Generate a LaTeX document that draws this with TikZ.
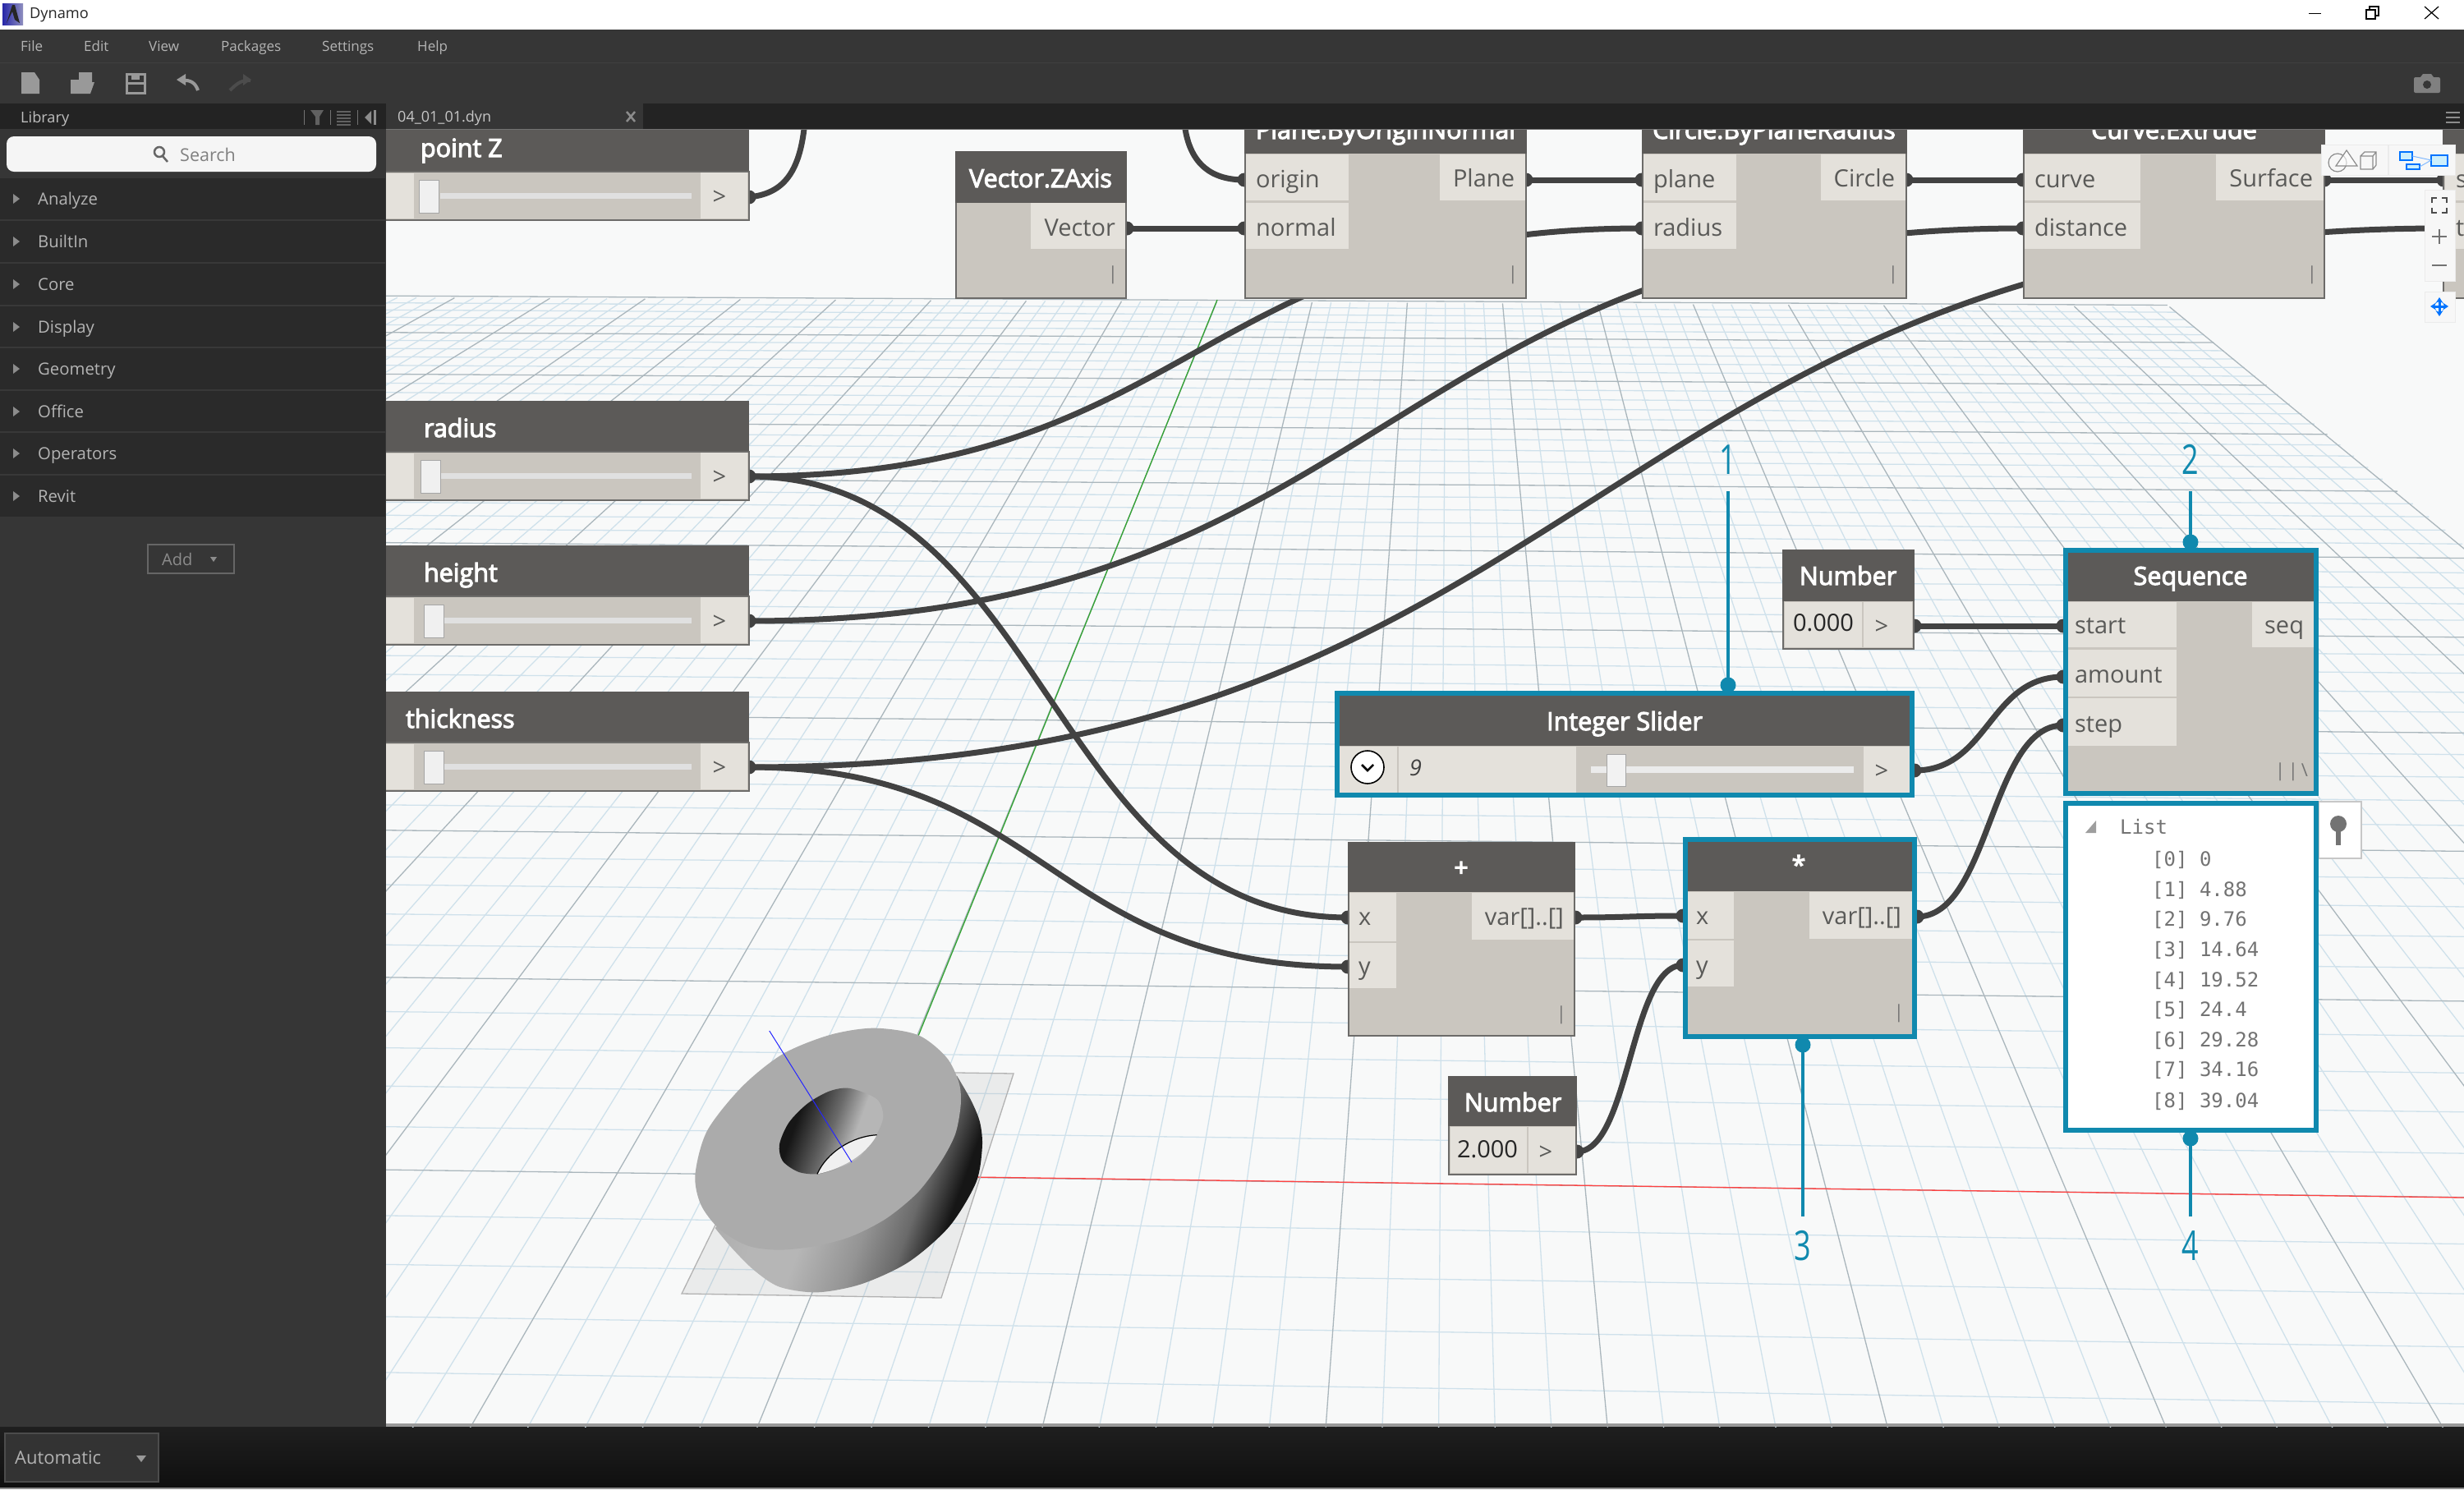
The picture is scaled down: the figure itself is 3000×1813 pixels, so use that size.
\documentclass[tikz,border=0pt]{standalone}
\usepackage{fontspec}
\setmainfont{Open Sans}
\newfontfamily\titlefont[FakeBold=3.5]{Open Sans}
\newfontfamily\monofont{DejaVu Sans Mono}
\usetikzlibrary{calc,arrows.meta}
\definecolor{hdr}{HTML}{5C5A58}
\definecolor{bodyc}{HTML}{CAC6BF}
\definecolor{cellc}{HTML}{E4E1DB}
\definecolor{bord}{HTML}{6C6B69}
\definecolor{canvasc}{HTML}{F8F9F9}
\definecolor{blu}{HTML}{1089AE}
\definecolor{wirec}{HTML}{424242}
\definecolor{panel}{HTML}{363636}
\definecolor{panel2}{HTML}{2A2A2A}
\definecolor{tabbar}{HTML}{232323}
\definecolor{menut}{HTML}{B4B4B4}
\definecolor{portt}{HTML}{5A5A58}
\definecolor{gmin}{HTML}{CFE1EB}
\definecolor{gmaj}{HTML}{AAB6BC}
\definecolor{ss1}{HTML}{AAAAAA}\definecolor{ss2}{HTML}{B6B6B6}\definecolor{ss3}{HTML}{949494}\definecolor{ss4}{HTML}{6A6A6A}\definecolor{ss5}{HTML}{161616}
\pgfdeclarehorizontalshading{sideshade}{100bp}{color(0bp)=(ss1);color(25bp)=(ss1);color(36bp)=(ss2);color(45bp)=(ss2);color(56bp)=(ss3);color(64bp)=(ss4);color(71bp)=(ss5);color(100bp)=(ss5)}
\pgfdeclarehorizontalshading{holeshade}{100bp}{color(0bp)=(ss5);color(32bp)=(ss5);color(50bp)=(ss4);color(62bp)=(ss2);color(72bp)=(ss2);color(75bp)=(ss1);color(100bp)=(ss1)}
\tikzset{
 lab/.style={font=\fontsize{29}{29}\selectfont,text=portt,inner sep=0pt,outer sep=0pt,text height=27pt,text depth=6pt},
 ttl/.style={font=\titlefont\fontsize{30.5}{30.5}\selectfont,text=white,inner sep=0pt,outer sep=0pt,text height=28pt,text depth=6pt},
 menutxt/.style={font=\fontsize{17}{17}\selectfont,text=menut,inner sep=0pt,anchor=west,text height=16pt,text depth=4pt},
 libtxt/.style={font=\fontsize{20.3}{20.3}\selectfont,text=menut,inner sep=0pt,anchor=west,text height=18pt,text depth=4pt},
 listtxt/.style={font=\monofont\fontsize{24}{24}\selectfont,text=black!55,inner sep=0pt,anchor=west,text height=22pt,text depth=5pt},
 callt/.style={font=\fontsize{50}{50}\selectfont,text=blu,inner sep=0pt,text height=38pt,text depth=0pt},
 hdrb/.style={fill=hdr},
 bodyb/.style={fill=bodyc,draw=bord,line width=2pt},
 cellb/.style={fill=cellc},
 hibox/.style={draw=blu,line width=6.5pt},
 wire/.style={draw=wirec,line width=7pt},
 portd/.style={fill=wirec},
 callline/.style={draw=blu,line width=4.5pt},
 calldot/.style={fill=blu},
 gridmin/.style={draw=gmin,line width=1.3pt},
 gridmaj/.style={draw=gmaj,line width=1.3pt},
 ctlb/.style={fill=white!97!black,draw=black!8,line width=1pt},
}
% rectangle node from corners
\newcommand\bx[6]{\pgfmathsetmacro\bxw{#5-(#3)}\pgfmathsetmacro\bxh{#6-(#4)}%
 \node[#2,anchor=north west,inner sep=0pt,outer sep=0pt,minimum width=\bxw pt,minimum height=\bxh pt] (#1) at (#3,#4) {};}
% wire with Dynamo-like control points
\newcommand\wireto[2]{\coordinate (wm) at ($(#1)!.5!(#2)$);\draw[wire] (#1) .. controls (wm |- #1) and (wm |- #2) .. (#2);}
\newcommand\portdot[1]{\fill[portd] (#1) circle (8.5pt);}
% number slider: name, title, ytop, title x, thumb x
\newcommand\numslider[5]{%
 \bx{#1-h}{hdrb}{460}{#3}{912}{#3+62}
 \bx{#1-b}{bodyb}{460}{#3+62}{912}{#3+121}
 \bx{#1-l}{cellb}{460}{#3+64}{504}{#3+119}
 \bx{#1-r}{cellb}{853}{#3+63}{910}{#3+119}
 \bx{#1-tr}{fill=black!12}{536}{#3+88}{842}{#3+95}
 \bx{#1-th}{fill=black!6,draw=black!35,line width=1pt}{#5}{#3+72}{#5+24}{#3+112}
 \node[ttl,anchor=west] (#1-t) at (#4,#3+33) {#2};
 \node[lab,text=portt] (#1-g) at (876,#3+92) {>};
}
% standard function node pieces
\newcommand\tick[2]{\node[font=\fontsize{22}{22}\selectfont,text=black!55,inner sep=0pt] at (#1,#2) {|};}
\begin{document}
\begin{tikzpicture}[x=1pt,y=-1pt]
\useasboundingbox (0,0) rectangle (3000,1813);
% window chrome
\fill[white] (0,0) rectangle (3000,36);
\fill[panel] (0,36) rectangle (3000,126);
\draw[black!75,line width=1pt] (0,76) -- (3000,76);
\fill[tabbar] (0,126) rectangle (3000,157);
\fill[panel] (470,126) rectangle (783,157);
\fill[panel] (0,157) rectangle (470,1737);
\fill[panel2] (0,217) rectangle (469,629);
\foreach \yy in {268,320,372,423,475,526,578} \draw[black!78,line width=2pt] (0,\yy) -- (469,\yy);
\shade[top color=black!88,bottom color=black!94] (0,1737) rectangle (3000,1811);
\fill[black!45] (0,1811) rectangle (3000,1813);
% title bar
\shade[left color=blue!60!black!85,right color=blue!25!white!75!black] (3,4) rectangle (28,30);
\fill[black!85] (8,28) -- (15,6) -- (18,6) -- (24,28) -- (18,24) -- (15,14) -- cycle;
\node[inner sep=0pt,anchor=west,font=\fontsize{18.2}{18.2}\selectfont,text=black!85] (apptitle) at (36,18) {Dynamo};
\draw[black,line width=1.2pt] (2811,16.5) -- (2826,16.5);
\draw[black,line width=1.2pt] (2881,12) rectangle (2892,23) (2885,12) -- (2885,8) -- (2896,8) -- (2896,19) -- (2892,19);
\draw[black,line width=1.2pt] (2952,8) -- (2969,23) (2969,8) -- (2952,23);
% menu
\node[menutxt] (m1) at (25,56) {File};
\node[menutxt] (m2) at (102,56) {Edit};
\node[menutxt] (m3) at (181,56) {View};
\node[menutxt] (m4) at (269,56) {Packages};
\node[menutxt] (m5) at (392,56) {Settings};
\node[menutxt] (m6) at (508,56) {Help};
% toolbar icons
\fill[black!40] (26,88) -- (42,88) -- (48,97) -- (48,114) -- (26,114) -- cycle;
\fill[black!40] (96,88) -- (112,88) -- (112,100) -- (115,100) -- (110,114) -- (86,114) -- (86,97) -- (96,97) -- cycle;
\draw[black!40,line width=3pt] (154,90) rectangle (176,113) (154,101) -- (176,101);
\fill[black!40] (160,90) rectangle (170,97);
\draw[black!40,line width=4pt] (222,98) .. controls (232,97) and (238,101) .. (241,110);
\fill[black!40] (215,97) -- (226,90) -- (226,104) -- cycle;
\draw[black!70,line width=4pt] (305,98) .. controls (295,97) and (289,101) .. (280,110);
\fill[black!70] (306,97) -- (296,90) -- (296,104) -- cycle;
% camera
\fill[black!50,rounded corners=2pt] (2939,94) rectangle (2971,113);
\fill[black!50] (2947,94) -- (2950,90) -- (2960,90) -- (2963,94) -- cycle;
\fill[panel] (2955,103) circle (5pt);
% tabs
\node[inner sep=0pt,anchor=west,font=\fontsize{18.2}{18.2}\selectfont,text=black!25,text height=16pt,text depth=4pt] (libtitle) at (25,143) {Library};
\foreach \xx in {370,402,435} \draw[black!55,line width=1pt] (\xx,134) -- (\xx,152);
\fill[black!62] (378,134) -- (394,134) -- (389,142) -- (389,152) -- (384,152) -- (384,142) -- cycle;
\foreach \yy in {136,140,144,148,152} \draw[black!62,line width=2pt] (410,\yy) -- (427,\yy);
\fill[black!45] (444,143) -- (452,135) -- (452,151) -- cycle;
\fill[black!45] (455,134) rectangle (458,152);
\node[inner sep=0pt,anchor=west,font=\fontsize{18}{18}\selectfont,text=black!22,text height=16pt,text depth=4pt] (tabname) at (484,142) {04\_01\_01.dyn};
\draw[black!45,line width=2.5pt] (763,136) -- (773,148) (773,136) -- (763,148);
\foreach \yy in {137,143,149} \draw[black!45,line width=2.5pt] (2978,\yy) -- (2995,\yy);
% library
\bx{searchbox}{fill=black!4,rounded corners=9pt}{8}{166}{458}{209}
\draw[black!60,line width=2.5pt] (194,185) circle (6pt) (198,190) -- (204,197);
\node[libtxt,font=\fontsize{21.5}{21.5}\selectfont,text=black!50] (searcht) at (219,189) {Search};
\foreach \nm/\yy in {Analyze/242,BuiltIn/294,Core/346,Display/398,Geometry/449,Office/501,Operators/552,Revit/604}{
 \node[libtxt] at (46,\yy) {\nm};
 \fill[black!45] (16,\yy-6) -- (24,\yy) -- (16,\yy+6) -- cycle;
}
\bx{addbox}{draw=black!60,line width=1.5pt}{180}{663}{285}{698}
\node[libtxt,font=\fontsize{20}{20}\selectfont,text=black!45] (addt) at (197,681) {Add};
\fill[black!45] (256,678) -- (264,678) -- (260,684) -- cycle;
\bx{autobox}{draw=black!70,fill=black!80,line width=1.5pt}{6}{1745}{193}{1804}
\node[libtxt,font=\fontsize{22}{22}\selectfont,text=black!30] (autot) at (18,1775) {Automatic};
\fill[black!40] (166,1772) -- (178,1772) -- (172,1780) -- cycle;
% canvas
\begin{scope}
\clip (470,157) rectangle (3000,1737);
\fill[canvasc] (470,157) rectangle (3000,1737);
% grid: minor then major
\foreach \pass in {0,1}{
 \foreach \m in {0,...,62}{
  \pgfmathtruncatemacro\ismaj{mod(\m,5)==0 ? 1 : 0}
  \ifnum\ismaj=\pass
  \pgfmathsetmacro\dd{10000/(14.41-0.1748*\m)}
  \pgfmathsetmacro\xl{1764-2.0727*\dd}
  \pgfmathsetmacro\xr{1764+1.2607*\dd}
  \pgfmathsetmacro\yl{-330+\dd+\dd*0.0075*((\xl-1196)/1000)}
  \pgfmathsetmacro\yr{-330+\dd+\dd*0.0075*((\xr-1196)/1000)}
  \ifnum\pass=1 \draw[gridmaj] (\xl,\yl) -- (\xr,\yr); \else \draw[gridmin] (\xl,\yl) -- (\xr,\yr); \fi
  \fi
 }
 \foreach \n in {-50,...,50}{
  \pgfmathtruncatemacro\ismaj{mod(abs(\n),5)==0 ? 1 : 0}
  \ifnum\ismaj=\pass
  \pgfmathsetmacro\sl{-0.406+\n/30}
  \pgfmathsetmacro\xa{1764+696*\sl}
  \pgfmathsetmacro\xb{1764+2560*\sl}
  \pgfmathsetmacro\ya{366+696*0.0075*((\xa-1196)/1000)}
  \pgfmathsetmacro\yb{2230+2560*0.0075*((\xb-1196)/1000)}
  \ifnum\pass=1 \draw[gridmaj] (\xa,\ya) -- (\xb,\yb); \else \draw[gridmin] (\xa,\ya) -- (\xb,\yb); \fi
  \fi
 }
}
% axes
\draw[green!55!black!80,line width=1.3pt] (1482,365) -- (1049,1431);
\draw[red!75,line width=1.3pt] (1040,1431) -- (3000,1458);
% base plane
\path[fill=black!40,fill opacity=.14,draw=black!30,line width=1.3pt] (963,1303) -- (1234,1307) -- (1146,1580) -- (830,1575) -- cycle;
% solid
\begin{scope}[shift={(750,1150)},x=0.38270pt,y=-0.33333pt]
 \path[shading=sideshade,shading angle=-20] plot[smooth] coordinates {(1085,480) (1130,570) (1158,650) (1165,740) (1145,870) (1060,1030) (930,1160) (780,1240) (640,1270) (520,1250) (440,1190) (370,1110) (315,1035)} -- (600,700) -- cycle;
 \fill[black!33] plot[smooth cycle] coordinates {(820,305) (960,330) (1050,410) (1090,500) (1097,580) (1080,690) (1035,790) (960,905) (860,1000) (750,1065) (640,1100) (520,1115) (420,1100) (330,1040) (270,950) (252,840) (290,680) (400,520) (530,400) (680,330)};
 \path[shading=holeshade,shading angle=-20] plot[smooth cycle] coordinates {(745,525) (830,565) (850,630) (825,700) (770,780) (700,820) (640,838) (580,830) (530,790) (520,730) (550,650) (610,580) (680,535)};
 \path[fill=black!6] (830,695) .. controls (750,700) and (670,760) .. (640,838) .. controls (700,825) and (790,780) .. cycle;
 \draw[black,line width=1.2pt] (830,695) .. controls (750,700) and (670,760) .. (640,838);
 \draw[blue!85,line width=1pt] (488,315) -- (750,795);
\end{scope}
% ports
\coordinate (pz-o) at (912,240);
\coordinate (ra-o) at (912,580);
\coordinate (he-o) at (912,756);
\coordinate (th-o) at (912,934);
\coordinate (vz-o) at (1372,278);
\coordinate (pl-i1) at (1515,219);
\coordinate (pl-i2) at (1515,278);
\coordinate (pl-o) at (1858,219);
\coordinate (ci-i1) at (1999,219);
\coordinate (ci-i2) at (1999,278);
\coordinate (ci-o) at (2321,219);
\coordinate (cu-i1) at (2463,219);
\coordinate (cu-i2) at (2463,278);
\coordinate (cu-o) at (2830,219);
\coordinate (nx-i1) at (2975,219);
\coordinate (nx-i2) at (2975,278);
\coordinate (off1) at (979,157);
\coordinate (off2) at (1443,157);
\coordinate (n1-o) at (2331,762);
\coordinate (sq-i1) at (2512,762);
\coordinate (sq-i2) at (2512,824);
\coordinate (sq-i3) at (2512,883);
\coordinate (sl-o) at (2331,938);
\coordinate (pp-i1) at (1641,1117);
\coordinate (pp-i2) at (1641,1177);
\coordinate (pp-o) at (1918,1117);
\coordinate (mu-i1) at (2049,1115);
\coordinate (mu-i2) at (2049,1175);
\coordinate (mu-o) at (2334,1116);
\coordinate (n2-o) at (1920,1402);
% wires
\draw[wire] (pz-o) .. controls (950,236) and (972,215) .. (off1);
\draw[wire] (off2) .. controls (1450,200) and (1475,219) .. (pl-i1);
\wireto{vz-o}{pl-i2}
\wireto{pl-o}{ci-i1}
\wireto{ci-o}{cu-i1}
\wireto{cu-o}{nx-i1}
\wireto{ra-o}{ci-i2}
\wireto{he-o}{cu-i2}
\wireto{th-o}{nx-i2}
\wireto{ra-o}{pp-i1}
\wireto{th-o}{pp-i2}
\wireto{pp-o}{mu-i1}
\wireto{n2-o}{mu-i2}
\wireto{n1-o}{sq-i1}
\wireto{sl-o}{sq-i2}
\wireto{mu-o}{sq-i3}
\foreach \p in {pz-o,ra-o,he-o,th-o,vz-o,pl-i1,pl-i2,pl-o,ci-i1,ci-i2,ci-o,cu-i1,cu-i2,cu-o,nx-i1,nx-i2,n1-o,sq-i1,sq-i2,sq-i3,sl-o,pp-i1,pp-i2,pp-o,mu-i1,mu-i2,mu-o,n2-o}{\portdot{\p}}
% sliders
\numslider{pz}{point Z}{147}{512}{510}
\numslider{ra}{radius}{488}{516}{512}
\numslider{he}{height}{664}{516}{516}
\numslider{th}{thickness}{842}{494}{516}
% Vector.ZAxis
\bx{vz-b}{bodyb}{1164}{246}{1371}{363}
\bx{vz-h}{hdrb}{1163}{184}{1372}{247}
\bx{vz-c}{cellb}{1255}{247}{1370}{303}
\node[ttl] (vz-t) at (1267,217) {Vector.ZAxis};
\node[lab,anchor=east] (vz-l) at (1358,277) {Vector};
\tick{1355}{335}
% Plane.ByOriginNormal
\bx{pl-b}{bodyb}{1516}{186}{1858}{363}
\bx{pl-h}{hdrb}{1515}{140}{1859}{187}
\bx{pl-c1}{cellb}{1517}{188}{1642}{244}
\bx{pl-c2}{cellb}{1517}{247}{1642}{303}
\bx{pl-c3}{cellb}{1753}{188}{1857}{244}
\node[ttl] (pl-t) at (1687,158) {Plane.ByOriginNormal};
\node[lab,anchor=west] (pl-l1) at (1529,218) {origin};
\node[lab,anchor=west] (pl-l2) at (1529,277) {normal};
\node[lab,anchor=east] (pl-l3) at (1844,217) {Plane};
\tick{1842}{335}
% Circle.ByPlaneRadius
\bx{ci-b}{bodyb}{2000}{186}{2321}{363}
\bx{ci-h}{hdrb}{1999}{140}{2322}{187}
\bx{ci-c1}{cellb}{2001}{188}{2114}{244}
\bx{ci-c2}{cellb}{2001}{247}{2114}{303}
\bx{ci-c3}{cellb}{2217}{188}{2320}{244}
\node[ttl] (ci-t) at (2160,158) {Circle.ByPlaneRadius};
\node[lab,anchor=west] (ci-l1) at (2013,218) {plane};
\node[lab,anchor=west] (ci-l2) at (2013,277) {radius};
\node[lab,anchor=east] (ci-l3) at (2307,217) {Circle};
\tick{2305}{335}
% Curve.Extrude
\bx{cu-b}{bodyb}{2464}{186}{2830}{363}
\bx{cu-h}{hdrb}{2463}{140}{2831}{187}
\bx{cu-c1}{cellb}{2465}{188}{2606}{244}
\bx{cu-c2}{cellb}{2465}{247}{2606}{303}
\bx{cu-c3}{cellb}{2698}{188}{2829}{244}
\node[ttl] (cu-t) at (2647,158) {Curve.Extrude};
\node[lab,anchor=west] (cu-l1) at (2477,218) {curve};
\node[lab,anchor=west] (cu-l2) at (2477,277) {distance};
\node[lab,anchor=east] (cu-l3) at (2816,217) {Surface};
\tick{2815}{335}
% node at the right edge
\bx{nx-b}{bodyb}{2975}{186}{3010}{363}
\bx{nx-h}{hdrb}{2974}{140}{3010}{187}
\bx{nx-c1}{cellb}{2977}{188}{3010}{244}
\bx{nx-c2}{cellb}{2977}{247}{3010}{303}
\node[lab,anchor=west] (nx-l1) at (2990,218) {s};
\node[lab,anchor=west] (nx-l2) at (2990,277) {t};
% Number 0.000
\bx{n1-b}{bodyb}{2171}{731}{2330}{790}
\bx{n1-h}{hdrb}{2170}{669}{2331}{732}
\bx{n1-c1}{cellb}{2173}{733}{2267}{788}
\bx{n1-c2}{cellb}{2269}{733}{2328}{788}
\node[ttl] (n1-t) at (2250,701) {Number};
\node[lab,text=black!85] (n1-v) at (2220,758) {0.000};
\node[lab] (n1-g) at (2291,762) {>};
% Sequence
\bx{sq-b}{bodyb}{2515}{730}{2820}{966}
\bx{sq-h}{hdrb}{2515}{670}{2820}{732}
\bx{sq-c1}{cellb}{2517}{733}{2650}{788}
\bx{sq-c2}{cellb}{2517}{791}{2650}{848}
\bx{sq-c3}{cellb}{2517}{850}{2650}{908}
\bx{sq-c4}{cellb}{2742}{733}{2817}{788}
\bx{sq-o}{hibox}{2515}{670}{2820}{966}
\node[ttl] (sq-t) at (2667,701) {Sequence};
\node[lab,anchor=west] (sq-l1) at (2526,761) {start};
\node[lab,anchor=west] (sq-l2) at (2526,821) {amount};
\node[lab,anchor=west] (sq-l3) at (2526,881) {step};
\node[lab,anchor=east] (sq-l4) at (2805,761) {seq};
\node[font=\fontsize{22}{22}\selectfont,text=black!55,inner sep=0pt] (sq-lace) at (2790,940) {|\,|\,\textbackslash};
% preview bubble
\bx{pv-pin}{fill=white,draw=black!22,line width=1.5pt}{2823}{976}{2875}{1045}
\fill[black!55] (2847,1003) circle (10pt);
\fill[black!55] (2844,1008) rectangle (2850,1029);
\bx{pv-b}{fill=white,hibox}{2515}{978}{2820}{1376}
\fill[black!38] (2552,999) -- (2552,1014) -- (2539,1014) -- cycle;
\node[listtxt] (pv-t) at (2581,1007) {List};
\foreach \txt/\yy in {{[0] 0}/1046,{[1] 4.88}/1083,{[2] 9.76}/1119,{[3] 14.64}/1156,{[4] 19.52}/1193,{[5] 24.4}/1229,{[6] 29.28}/1266,{[7] 34.16}/1302,{[8] 39.04}/1340}{
 \node[listtxt] at (2620,\yy) {\txt};
}
% Integer Slider
\bx{sl-b}{fill=bodyc}{1628}{905}{2328}{968}
\bx{sl-h}{hdrb}{1628}{844}{2328}{908}
\bx{sl-c1}{cellb}{1630}{909}{1701}{966}
\bx{sl-c2}{cellb}{1703}{909}{1919}{966}
\bx{sl-c3}{cellb}{2269}{909}{2326}{966}
\bx{sl-tr}{fill=black!8}{1937}{933}{2257}{941}
\bx{sl-th}{fill=black!5,draw=black!35,line width=1pt}{1956}{918}{1979}{957}
\bx{sl-o}{hibox}{1628}{844}{2328}{968}
\node[ttl] (sl-t) at (1978,878) {Integer Slider};
\node[draw=black,line width=1.6pt,fill=white,circle,minimum size=40pt,inner sep=0pt] (sl-btn) at (1665,934) {};
\draw[black,line width=2.5pt] (1658,931) -- (1665,938) -- (1672,931);
\node[lab,text=black!75,font=\itshape\fontsize{27}{27}\selectfont,anchor=west] (sl-v) at (1716,934) {9};
\node[lab] (sl-g) at (2291,938) {>};
% +
\bx{pp-b}{bodyb}{1642}{1084}{1917}{1261}
\bx{pp-h}{hdrb}{1641}{1025}{1918}{1086}
\bx{pp-c1}{cellb}{1643}{1087}{1700}{1146}
\bx{pp-c2}{cellb}{1643}{1148}{1700}{1203}
\bx{pp-c3}{cellb}{1792}{1087}{1916}{1144}
\node[ttl] (pp-t) at (1779,1056) {+};
\node[lab,anchor=west] (pp-l1) at (1654,1116) {x};
\node[lab,anchor=west] (pp-l2) at (1654,1176) {y};
\node[lab,anchor=east] (pp-l3) at (1904,1116) {var[]..[]};
\tick{1901}{1236}
% *
\bx{mu-b}{fill=bodyc}{2052}{1080}{2331}{1262}
\bx{mu-h}{hdrb}{2052}{1022}{2331}{1085}
\bx{mu-c1}{cellb}{2054}{1086}{2111}{1143}
\bx{mu-c2}{cellb}{2054}{1145}{2111}{1201}
\bx{mu-c3}{cellb}{2203}{1086}{2328}{1143}
\bx{mu-o2}{hibox}{2052}{1022}{2331}{1262}
\node[ttl] (mu-t) at (2190,1053) {*};
\node[lab,anchor=west] (mu-l1) at (2065,1115) {x};
\node[lab,anchor=west] (mu-l2) at (2065,1175) {y};
\node[lab,anchor=east] (mu-l3) at (2315,1115) {var[]..[]};
\tick{2312}{1234}
% Number 2.000
\bx{n2-b}{bodyb}{1764}{1369}{1919}{1430}
\bx{n2-h}{hdrb}{1763}{1310}{1920}{1371}
\bx{n2-c1}{cellb}{1766}{1372}{1859}{1428}
\bx{n2-c2}{cellb}{1861}{1372}{1918}{1428}
\node[ttl] (n2-t) at (1842,1342) {Number};
\node[lab,text=black!85] (n2-v) at (1811,1399) {2.000};
\node[lab] (n2-g) at (1882,1402) {>};
% callouts
\coordinate (c1a) at (2104,598); \coordinate (c1b) at (2104,834);
\coordinate (c2a) at (2667,598); \coordinate (c2b) at (2667,660);
\coordinate (c3a) at (2195,1272); \coordinate (c3b) at (2195,1481);
\coordinate (c4a) at (2667,1386); \coordinate (c4b) at (2667,1481);
\draw[callline] (c1a) -- (c1b);
\draw[callline] (c2a) -- (c2b);
\draw[callline] (c3a) -- (c3b);
\draw[callline] (c4a) -- (c4b);
\foreach \p in {c1b,c2b,c3a,c4a}{\fill[calldot] (\p) circle (9.5pt);}
\node[callt] (ct1) at (2104,558) {\scalebox{.72}[1]{1}};
\node[callt] (ct2) at (2667,558) {\scalebox{.72}[1]{2}};
\node[callt] (ct3) at (2195,1515) {\scalebox{.72}[1]{3}};
\node[callt] (ct4) at (2667,1515) {\scalebox{.72}[1]{4}};
% view controls
\bx{vw1}{ctlb}{2826}{176}{2907}{213}
\bx{vw2}{ctlb}{2908}{176}{2989}{213}
\draw[black!45,line width=1.2pt] (2846,198) circle (11pt);
\draw[black!45,line width=1.2pt,fill=white,fill opacity=.6] (2857,183) -- (2844,202) -- (2870,202) -- cycle;
\draw[black!45,line width=1.2pt] (2874,190) rectangle (2889,206) (2874,190) -- (2879,185) -- (2893,185) -- (2893,201) -- (2889,206) (2889,190) -- (2893,185);
\draw[blue!55!cyan,line width=1.2pt,fill=cyan!20] (2922,185) rectangle (2937,195);
\draw[blue!55!cyan,line width=1.2pt,fill=cyan!20] (2960,189) rectangle (2980,202);
\draw[blue!55!cyan,line width=1.2pt,fill=cyan!20] (2930,200) rectangle (2946,206);
\draw[blue!55!cyan!50,line width=1pt] (2937,190) -- (2960,195) (2946,203) -- (2960,195);
\bx{zm}{ctlb}{2952}{231}{2989}{342}
\draw[black!70,line width=2pt] (2961,247) |- (2967,241) (2973,241) -| (2979,247) (2979,253) |- (2973,259) (2967,259) -| (2961,253);
\draw[black!55,line width=2.5pt] (2961,288) -- (2979,288) (2970,279) -- (2970,297);
\draw[black!55,line width=2.5pt] (2961,323) -- (2979,323);
\bx{pan}{ctlb}{2952}{355}{2989}{392}
\draw[blue!55!cyan,line width=3pt,{Stealth[length=7pt,width=9pt]}-{Stealth[length=7pt,width=9pt]}] (2970,362) -- (2970,385);
\draw[blue!55!cyan,line width=3pt,{Stealth[length=7pt,width=9pt]}-{Stealth[length=7pt,width=9pt]}] (2959,373) -- (2981,373);
\end{scope}
\fill[black!40] (470,1733) rectangle (3000,1737);
\draw[black!55,line width=1pt] (470,157) -- (3000,157);
\end{tikzpicture}
\end{document}
